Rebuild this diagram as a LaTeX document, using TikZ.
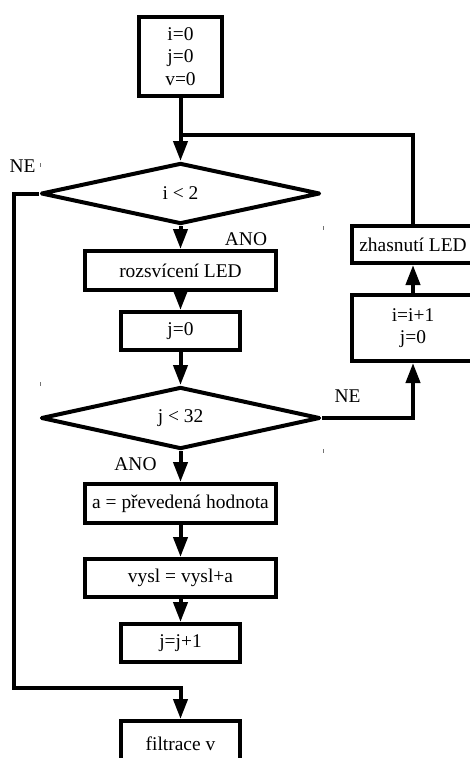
\documentclass[tikz,border=0pt]{standalone}
\usepackage{fontspec}
\setmainfont{Liberation Serif}
\usetikzlibrary{positioning,arrows.meta,shapes.geometric}

\begin{document}
\begin{tikzpicture}[x=1bp, y=-1bp, font=\fontsize{19.5}{22.5}\selectfont,
  line width=4bp,
  box/.style={draw, rectangle, align=center, inner sep=0pt},
  cond/.style={draw, diamond, aspect=4.4, inner sep=0pt, minimum width=279bp, minimum height=61bp, line join=round},
  lbl/.style={inner sep=0pt},
  arr/.style={-{Triangle[length=20bp 0 0,width=14bp 0 0]}},
  stray/.style={line width=1bp, black!55}]
\useasboundingbox (0,0) rectangle (470,758);
% main column
\node[box, minimum width=83bp, minimum height=79bp] (init) at (180.5,56.5) {i=0\\j=0\\v=0};
\node[cond, below=63bp of init] (ci) {i < 2};
\node[box, minimum width=191bp, minimum height=39bp, below=23bp of ci] (rozsv) {rozsvícení LED};
\node[box, minimum width=119bp, minimum height=38bp, below=18bp of rozsv] (j0) {j=0};
\node[cond, minimum height=62bp, below=33bp of j0] (cj) {j < 32};
\node[box, minimum width=191bp, minimum height=39bp, below=31bp of cj] (prev) {a = převedená hodnota};
\node[box, minimum width=191bp, minimum height=38bp, below=32bp of prev] (vysl) {vysl = vysl+a};
\node[box, minimum width=119bp, minimum height=38bp, below=23bp of vysl] (jinc) {j=j+1};
\node[box, minimum width=119bp, minimum height=46bp, below=55bp of jinc] (filtr) {filtrace v};
% right column
\node[box, minimum width=122bp, minimum height=37bp] (zhasn) at (413,244.5) {zhasnutí LED};
\node[box, minimum width=122bp, minimum height=66bp, below=28bp of zhasn] (iinc) {i=i+1\\j=0};
% labels
\node[lbl] (ne1) at (22.5,166) {NE};
\node[lbl] (ano1) at (246,239) {ANO};
\node[lbl] (ne2) at (347.5,396) {NE};
\node[lbl] (ano2) at (135.5,464.5) {ANO};
\coordinate (join) at (180.5,135);
\coordinate (nebend) at (14,688);
% connectors
\draw[arr] (init) -- (ci);
\draw (zhasn.north) |- (join);
\draw[arr] (ci) -- (rozsv);
\draw[arr] (rozsv) -- (j0);
\draw[arr] (j0) -- (cj);
\draw[arr] (cj) -- (prev);
\draw[arr] (prev) -- (vysl);
\draw[arr] (vysl) -- (jinc);
\draw[arr] (cj.east) -| (iinc.south);
\draw[arr] (iinc) -- (zhasn);
\draw[arr] (ci.west) -| (nebend) -| (filtr.north);
% stray marks
\draw[stray] (40,163) -- (40,167);
\draw[stray] (323,226) -- (323,230);
\draw[stray] (40,382) -- (40,386);
\draw[stray] (323,449) -- (323,453);
\end{tikzpicture}
\end{document}
